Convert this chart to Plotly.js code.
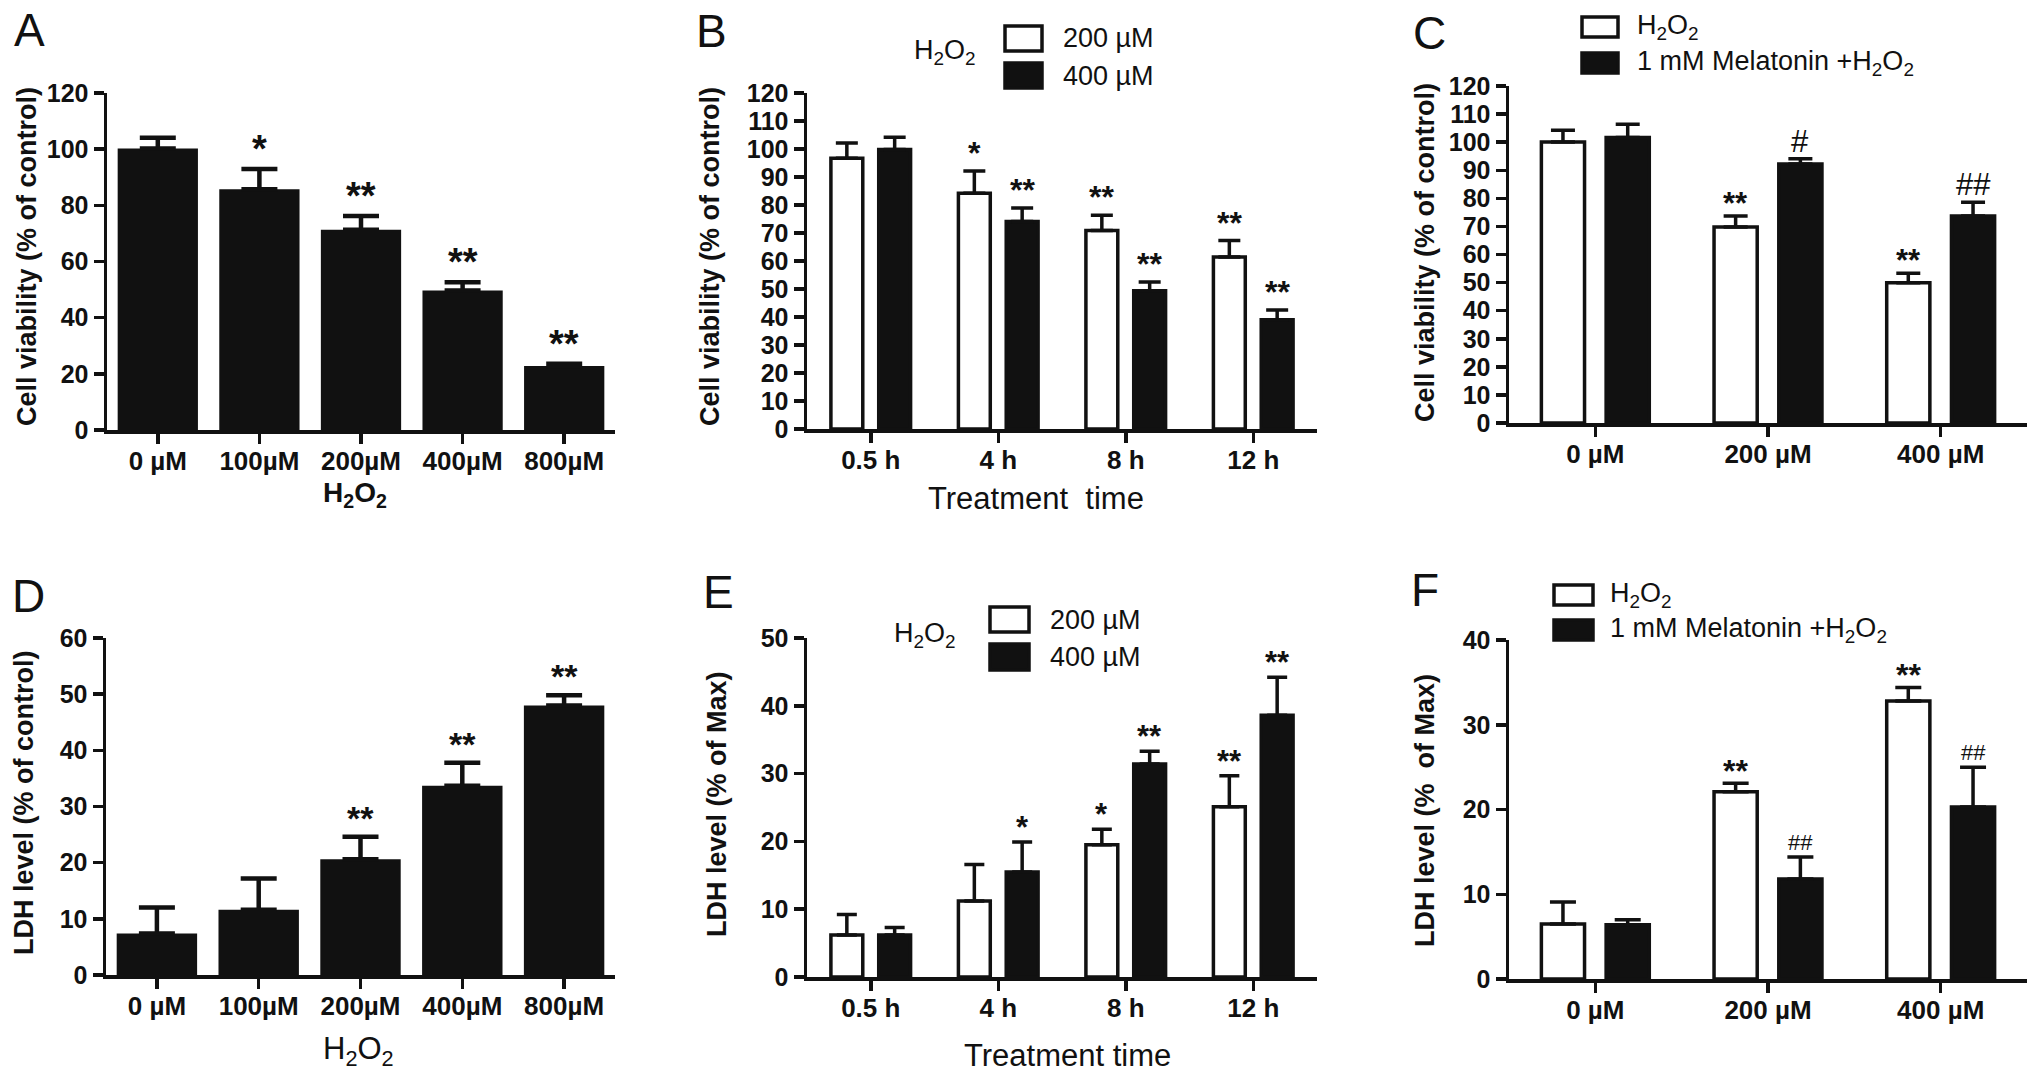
<!DOCTYPE html>
<html>
<head>
<meta charset="utf-8">
<script src="https://cdn.plot.ly/plotly-3.0.1.min.js"></script>
<style>
  html, body { margin: 0; padding: 0; background: #fff; }
  #fig { width: 2031px; height: 1080px; }
</style>
</head>
<body>
<div id="fig"></div>
<script>
const W = 2031;
const H = 1080;
const FONT = "Liberation Sans, Arial, Helvetica, sans-serif";
const INK = "#111111";

// categories
const doseCats = ["0 µM", "100µM", "200µM", "400µM", "800µM"];
const timeCats = ["0.5 h", "4 h", "8 h", "12 h"];
const melCats = ["0 µM", "200 µM", "400 µM"];

// A: viability vs H2O2 dose
const viabDose = [100.2, 85.7, 71.3, 49.7, 22.8];
const viabDoseErr = [3.9, 7.2, 4.9, 2.9, 0.8];
const viabDoseSig = ["", "*", "**", "**", "**"];

// B: viability vs time
const viabTime200 = [96.7, 84.2, 70.9, 61.4];
const viabTime200Err = [5.4, 7.9, 5.4, 5.9];
const viabTime200Sig = ["", "*", "**", "**"];
const viabTime400 = [99.8, 74.1, 49.4, 39.0];
const viabTime400Err = [4.4, 4.8, 3.1, 3.5];
const viabTime400Sig = ["", "**", "**", "**"];

// C: viability, melatonin
const viabH2o2 = [100.1, 69.8, 49.9];
const viabH2o2Err = [4.1, 3.9, 3.4];
const viabH2o2Sig = ["", "**", "**"];
const viabMel = [101.7, 92.2, 73.7];
const viabMelErr = [4.7, 1.9, 4.9];
const viabMelSig = ["", "#", "##"];

// D: LDH vs dose
const ldhDose = [7.4, 11.6, 20.6, 33.7, 48.0];
const ldhDoseErr = [4.6, 5.6, 4.0, 4.1, 1.8];
const ldhDoseSig = ["", "", "**", "**", "**"];

// E: LDH vs time
const ldhTime200 = [6.2, 11.2, 19.5, 25.1];
const ldhTime200Err = [3.0, 5.4, 2.3, 4.6];
const ldhTime200Sig = ["", "", "*", "**"];
const ldhTime400 = [6.2, 15.5, 31.4, 38.6];
const ldhTime400Err = [1.1, 4.4, 1.9, 5.6];
const ldhTime400Sig = ["", "*", "**", "**"];

// F: LDH, melatonin
const ldhH2o2 = [6.5, 22.1, 32.8];
const ldhH2o2Err = [2.6, 1.0, 1.6];
const ldhH2o2Sig = ["", "**", "**"];
const ldhMel = [6.4, 11.8, 20.3];
const ldhMelErr = [0.6, 2.6, 4.7];
const ldhMelSig = ["", "##", "##"];

const px = (x) => x / W;
const py = (y) => 1 - y / H;

const WHITE_BAR = { fill: "#ffffff" };
const BLACK_BAR = { fill: INK };

const panels = [
  {
    letter: "A", letterPos: [12, 30], box: [107, 615, 93, 430],
    cats: doseCats, yMax: 120, dtick: 20,
    yTitle: "Cell viability (% of control)", yTitlePos: [27, 257],
    xTitle: "<b>H<sub>2</sub>O<sub>2</sub></b>", xTitlePos: [355, 495], xTitleSize: 28,
    capWidth: 18, errThick: 4.5,
    sigSize: 38, sigShift: -3, hashSize: 28, hashShift: 0,
    series: [{ y: viabDose, err: viabDoseErr, sig: viabDoseSig, style: BLACK_BAR }]
  },
  {
    letter: "B", letterPos: [694, 31], box: [807, 1317, 93, 429],
    cats: timeCats, yMax: 120, dtick: 10,
    yTitle: "Cell viability (% of control)", yTitlePos: [710, 257],
    xTitle: "Treatment  time", xTitlePos: [1036, 498], xTitleSize: 31,
    capWidth: 11, errThick: 3.5,
    sigSize: 32, sigShift: -2, hashSize: 28, hashShift: 0,
    legendTitle: "H<sub>2</sub>O<sub>2</sub>", legendTitlePos: [945, 52],
    legend: { x0: 1005, x1: 1042, rows: [[26, 51], [63, 88]], textX: 1061,
              labels: ["200 µM", "400 µM"] },
    series: [
      { y: viabTime200, err: viabTime200Err, sig: viabTime200Sig, style: WHITE_BAR },
      { y: viabTime400, err: viabTime400Err, sig: viabTime400Sig, style: BLACK_BAR }
    ]
  },
  {
    letter: "C", letterPos: [1411, 33], box: [1509, 2027, 86, 423],
    cats: melCats, yMax: 120, dtick: 10,
    yTitle: "Cell viability (% of control)", yTitlePos: [1425, 253],
    capWidth: 12, errThick: 3.5,
    sigSize: 31, sigShift: -7, hashSize: 31, hashShift: -2,
    legend: { x0: 1582, x1: 1618, rows: [[17, 37], [53, 73]], textX: 1635,
              labels: ["H<sub>2</sub>O<sub>2</sub>", "1 mM Melatonin +H<sub>2</sub>O<sub>2</sub>"] },
    series: [
      { y: viabH2o2, err: viabH2o2Err, sig: viabH2o2Sig, style: WHITE_BAR },
      { y: viabMel, err: viabMelErr, sig: viabMelSig, style: BLACK_BAR }
    ]
  },
  {
    letter: "D", letterPos: [10, 596], box: [106, 615, 638, 975],
    cats: doseCats, yMax: 60, dtick: 10,
    yTitle: "LDH level (% of control)", yTitlePos: [24, 803],
    xTitle: "H<sub>2</sub>O<sub>2</sub>", xTitlePos: [358, 1051], xTitleSize: 31,
    capWidth: 18, errThick: 4.5,
    sigSize: 34, sigShift: -2, hashSize: 28, hashShift: 0,
    series: [{ y: ldhDose, err: ldhDoseErr, sig: ldhDoseSig, style: BLACK_BAR }]
  },
  {
    letter: "E", letterPos: [701, 592], box: [807, 1317, 638, 977],
    cats: timeCats, yMax: 50, dtick: 10,
    yTitle: "LDH level (% of Max)", yTitlePos: [717, 804],
    xTitle: "Treatment time", xTitlePos: [1067, 1055], xTitleSize: 31,
    capWidth: 10, errThick: 3.5,
    sigSize: 31, sigShift: -5, hashSize: 28, hashShift: 0,
    legendTitle: "H<sub>2</sub>O<sub>2</sub>", legendTitlePos: [925, 635],
    legend: { x0: 990, x1: 1029, rows: [[607, 632], [644, 670]], textX: 1048,
              labels: ["200 µM", "400 µM"] },
    series: [
      { y: ldhTime200, err: ldhTime200Err, sig: ldhTime200Sig, style: WHITE_BAR },
      { y: ldhTime400, err: ldhTime400Err, sig: ldhTime400Sig, style: BLACK_BAR }
    ]
  },
  {
    letter: "F", letterPos: [1409, 590], box: [1509, 2027, 640, 979],
    cats: melCats, yMax: 40, dtick: 10,
    yTitle: "LDH level (%  of Max)", yTitlePos: [1425, 811],
    capWidth: 13, errThick: 3.5,
    sigSize: 32, sigShift: -8, hashSize: 22, hashShift: 0,
    legend: { x0: 1554, x1: 1593, rows: [[585, 605], [620, 640]], textX: 1608,
              labels: ["H<sub>2</sub>O<sub>2</sub>", "1 mM Melatonin +H<sub>2</sub>O<sub>2</sub>"] },
    series: [
      { y: ldhH2o2, err: ldhH2o2Err, sig: ldhH2o2Sig, style: WHITE_BAR },
      { y: ldhMel, err: ldhMelErr, sig: ldhMelSig, style: BLACK_BAR }
    ]
  }
];

const data = [];
const shapes = [];
const annotations = [];
const layout = {
  width: W,
  height: H,
  margin: { t: 0, r: 0, b: 0, l: 0 },
  paper_bgcolor: "#ffffff",
  plot_bgcolor: "#ffffff",
  barmode: "overlay",
  showlegend: false,
  font: { family: FONT, color: INK }
};

const paperText = (text, x, y, size, extra = {}) => {
  annotations.push(Object.assign({
    xref: "paper", yref: "paper", x: px(x), y: py(y),
    text, showarrow: false, xanchor: "center", yanchor: "middle",
    font: { family: FONT, size, color: INK }
  }, extra));
};

panels.forEach((p, idx) => {
  const n = idx + 1;
  const id = n === 1 ? "" : String(n);
  const [x0, x1, yTop, yBot] = p.box;
  const grouped = p.series.length > 1;

  layout["xaxis" + id] = {
    domain: [px(x0), px(x1)],
    anchor: "y" + id,
    type: "category",
    range: [-0.5, p.cats.length - 0.5],
    showline: true, linewidth: 3.5, linecolor: INK,
    ticks: "outside", ticklen: 10, tickwidth: 3.5, tickcolor: INK,
    ticklabelstandoff: -5,
    showgrid: false, zeroline: false,
    tickfont: { family: FONT, size: 26, color: INK, weight: "bold" }
  };
  layout["yaxis" + id] = {
    domain: [py(yBot), py(yTop)],
    anchor: "x" + id,
    range: [0, p.yMax],
    tickmode: "linear", tick0: 0, dtick: p.dtick,
    showline: true, linewidth: 3.5, linecolor: INK,
    ticks: "outside", ticklen: 10, tickwidth: 3.5, tickcolor: INK,
    showgrid: false, zeroline: false,
    tickfont: { family: FONT, size: 25, color: INK, weight: "bold" }
  };

  p.series.forEach((s, k) => {
    const barWidth = grouped ? 0.25 : 0.79;
    const center = grouped ? (k === 0 ? -0.1875 : 0.1875) : 0;
    data.push({
      type: "bar",
      x: p.cats,
      y: s.y,
      xaxis: "x" + id,
      yaxis: "y" + id,
      width: barWidth,
      offset: center - barWidth / 2,
      marker: {
        color: s.style.fill,
        line: { color: INK, width: grouped ? 3.5 : 0 }
      },
      error_y: {
        type: "data",
        symmetric: false,
        array: s.err,
        arrayminus: s.err.map(() => 0),
        color: INK,
        thickness: p.errThick,
        width: p.capWidth
      },
      hoverinfo: "skip"
    });

    s.sig.forEach((mark, i) => {
      if (!mark) {
        return;
      }
      const isHash = mark.startsWith("#");
      annotations.push({
        xref: "x" + id, yref: "y" + id,
        x: i + center, y: s.y[i] + s.err[i],
        text: mark, showarrow: false,
        xanchor: "center", yanchor: "bottom",
        yshift: isHash ? p.hashShift : p.sigShift,
        font: { family: FONT, size: isHash ? p.hashSize : p.sigSize, color: INK,
                weight: isHash ? "normal" : "bold" }
      });
    });
  });

  // panel letter
  paperText(p.letter, p.letterPos[0], p.letterPos[1], 46, { xanchor: "left" });
  // axis titles
  paperText(p.yTitle, p.yTitlePos[0], p.yTitlePos[1], 27, {
    textangle: -90,
    font: { family: FONT, size: 27, color: INK, weight: "bold" }
  });
  if (p.xTitle) {
    paperText(p.xTitle, p.xTitlePos[0], p.xTitlePos[1], p.xTitleSize);
  }
  if (p.legendTitle) {
    paperText(p.legendTitle, p.legendTitlePos[0], p.legendTitlePos[1], 27);
  }
  if (p.legend) {
    const lg = p.legend;
    lg.rows.forEach(([r0, r1], k) => {
      const fill = p.series[k].style.fill;
      shapes.push({
        type: "rect", xref: "paper", yref: "paper",
        x0: px(lg.x0), x1: px(lg.x1), y0: py(r1), y1: py(r0),
        fillcolor: fill, line: { color: INK, width: 3.5 }
      });
      paperText(lg.labels[k], lg.textX, (r0 + r1) / 2, 27, { xanchor: "left" });
    });
  }
});

layout.shapes = shapes;
layout.annotations = annotations;

Plotly.newPlot("fig", data, layout, { displayModeBar: false, staticPlot: true });
</script>
</body>
</html>
